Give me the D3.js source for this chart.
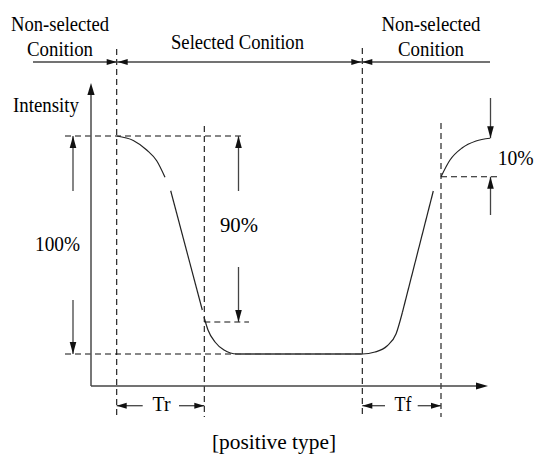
<!DOCTYPE html>
<html><head><meta charset="utf-8">
<script src="https://cdn.jsdelivr.net/npm/d3@7"></script>
<style>
html,body{margin:0;padding:0;background:#fff;}
svg text{font-family:"Liberation Serif","DejaVu Serif",serif !important;}
</style></head>
<body>
<svg id="chart" width="535" height="461"></svg>
<script>
// ---- data (time in arbitrary units, intensity normalized) ----
const phaseLabels = [["Non-selected","Conition"],["Selected Conition"],["Non-selected","Conition"]];
const markerTimes = [25.7, 113.3, 271.3, 350];          // start of selection, end of Tr, deselect, end of Tf
const levelHigh = 1.0, levelLow = 0.128, level90 = 0.256, level10 = 0.837;
const fallCurve  = [[25.7,1.0],[42.3,0.982],[55.7,0.944],[65.7,0.901],[74,0.835]];
const fallLine   = [[79.7,0.781],[111.3,0.304]];
const bottomCurve= [[113,0.276],[117,0.224],[124,0.176],[133,0.144],[146,0.128],[271.3,0.128],
                    [284,0.136],[296,0.16],[305,0.208],[311.3,0.293]];
const riseLine   = [[311.3,0.293],[342.3,0.780]];
const riseCurve  = [[350,0.837],[359,0.904],[371,0.952],[385,0.980],[399,0.991]];
const pctLabels  = ["100%","90%","10%"];
const timeLabels = ["Tr","Tf"];
const axisLabel  = "Intensity";
const caption    = "[positive type]";

// ---- scales ----
const x = d3.scaleLinear().domain([0,400]).range([91,491]);
const y = d3.scaleLinear().domain([0,1]).range([386,136]);
const svg = d3.select("#chart");
const FS = 20;

function arrowHead(px, py, dir, len=11, hw=3.3, color="#222"){
  let pts;
  if(dir==='up') pts=[[px,py],[px-hw,py+len],[px+hw,py+len]];
  if(dir==='down') pts=[[px,py],[px-hw,py-len],[px+hw,py-len]];
  if(dir==='left') pts=[[px,py],[px+len,py-hw],[px+len,py+hw]];
  if(dir==='right') pts=[[px,py],[px-len,py-hw],[px-len,py+hw]];
  svg.append("path").attr("d","M"+pts.map(p=>p.join(",")).join("L")+"Z").attr("fill",color);
}
function line(x1,y1,x2,y2,opts={}){
  const l = svg.append("line").attr("x1",x1).attr("y1",y1).attr("x2",x2).attr("y2",y2)
    .attr("stroke",opts.color||"#333").attr("stroke-width",opts.w||1.2);
  if(opts.dash) l.attr("stroke-dasharray",opts.dash);
  return l;
}
function arrow(x1,y1,x2,y2,dir,opts={}){
  line(x1,y1,x2,y2,{color:opts.color||"#444",w:opts.w||1.3});
  arrowHead(x2,y2,dir,opts.len||11,opts.hw||3.3,opts.color||"#111");
}
function text(s,px,py,anchor="middle",fs=FS){
  return svg.append("text").attr("x",px).attr("y",py).attr("text-anchor",anchor)
    .attr("font-size",fs).attr("fill","#000").text(s);
}
const DASH = "6,4";

// ---- dashed marker verticals ----
const vTop = [49, 126, 48, 123];
markerTimes.forEach((t,i)=> line(x(t), vTop[i], x(t), 417, {dash:DASH, color:"#111", w:1.1}));

// ---- dashed horizontal levels ----
line(65, y(levelHigh), 245, y(levelHigh), {dash:DASH,color:"#111",w:1.1});
line(65, y(levelLow), x(markerTimes[2]), y(levelLow), {dash:DASH,color:"#111",w:1.1});
line(x(markerTimes[1]), y(level90), 249, y(level90), {dash:DASH,color:"#111",w:1.1});
line(x(markerTimes[3]), y(level10), 497, y(level10), {dash:DASH,color:"#111",w:1.1});

// ---- axes ----
line(x(0), y(0), x(0), 94, {color:"#555", w:1.6});
arrowHead(x(0), 83, 'up', 12, 3.6, "#111");
line(x(0), y(0), 477, y(0), {color:"#444", w:1.6});
arrowHead(488, y(0), 'right', 12, 3.6, "#111");

// ---- response curve ----
const smooth = d3.line().x(d=>x(d[0])).y(d=>y(d[1])).curve(d3.curveMonotoneX);
const straight = d3.line().x(d=>x(d[0])).y(d=>y(d[1]));
[[fallCurve,smooth],[fallLine,straight],[bottomCurve,smooth],[riseLine,straight],[riseCurve,smooth]]
  .forEach(([d,g])=> svg.append("path").attr("d",g(d)).attr("fill","none").attr("stroke","#222").attr("stroke-width",1.2));
svg.append("path").attr("d",straight(bottomCurve.filter(d=>d[1]===levelLow)))
  .attr("fill","none").attr("stroke","#555").attr("stroke-width",1.7);

// ---- phase arrows and labels ----
const phaseY = 62;
arrow(33, phaseY, x(markerTimes[0]), phaseY, 'right', {len:10,hw:3});
line(x(markerTimes[0]), phaseY, x(markerTimes[2]), phaseY, {color:"#444",w:1.3});
arrowHead(x(markerTimes[0])+1, phaseY, 'left', 10, 3, "#111");
arrowHead(x(markerTimes[2])-1, phaseY, 'right', 10, 3, "#111");
arrow(490, phaseY, x(markerTimes[2]), phaseY, 'left', {len:10,hw:3});

text(phaseLabels[0][0], 60, 31).attr("textLength",98).attr("lengthAdjust","spacingAndGlyphs");
text(phaseLabels[0][1], 60, 56).attr("textLength",66).attr("lengthAdjust","spacingAndGlyphs");
text(phaseLabels[1][0], 237.5, 49).attr("textLength",133).attr("lengthAdjust","spacingAndGlyphs");
text(phaseLabels[2][0], 431, 31).attr("textLength",99).attr("lengthAdjust","spacingAndGlyphs");
text(phaseLabels[2][1], 431, 56).attr("textLength",66).attr("lengthAdjust","spacingAndGlyphs");

// ---- axis label ----
text(axisLabel, 46, 112).attr("textLength",66).attr("lengthAdjust","spacingAndGlyphs");

// ---- percentage arrows ----
arrow(73, 191, 73, y(levelHigh), 'up', {len:12,hw:3.3});
arrow(73, 300, 73, y(levelLow), 'down', {len:12,hw:3.3});
text(pctLabels[0], 57.5, 251).attr("textLength",45).attr("lengthAdjust","spacingAndGlyphs");

arrow(238.5, 191, 238.5, y(levelHigh), 'up', {len:12,hw:3.3});
arrow(238.5, 267, 238.5, y(level90), 'down', {len:12,hw:3.3});
text(pctLabels[1], 239, 232).attr("textLength",38).attr("lengthAdjust","spacingAndGlyphs");

arrow(490.5, 98, 490.5, y(riseCurve[riseCurve.length-1][1]), 'down', {len:12,hw:3.3});
arrow(490.5, 215, 490.5, y(level10), 'up', {len:12,hw:3.3});
text(pctLabels[2], 497.7, 165, "start").attr("textLength",36).attr("lengthAdjust","spacingAndGlyphs");

// ---- Tr / Tf ----
const tY = 405.7;
arrow(142.7, tY, x(markerTimes[0]), tY, 'left', {len:10,hw:3});
arrow(179, tY, x(markerTimes[1]), tY, 'right', {len:10,hw:3});
text(timeLabels[0], 161.5, 411).attr("textLength",18).attr("lengthAdjust","spacingAndGlyphs");
arrow(385, tY, x(markerTimes[2]), tY, 'left', {len:10,hw:3});
arrow(417.7, tY, x(markerTimes[3]), tY, 'right', {len:10,hw:3});
text(timeLabels[1], 403, 411).attr("textLength",17).attr("lengthAdjust","spacingAndGlyphs");

// ---- caption ----
text(caption, 274, 449).attr("textLength",124).attr("lengthAdjust","spacingAndGlyphs");
</script>
</body></html>
